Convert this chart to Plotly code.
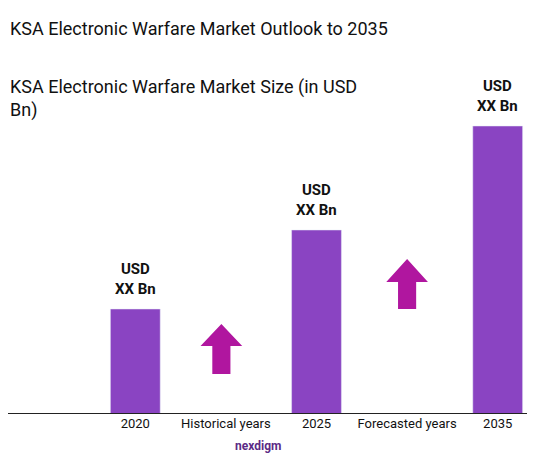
import plotly.graph_objects as go

categories = ["2020", "Historical years", "2025", "Forecasted years", "2035"]
values = [105, None, 184, None, 288]
bar_labels = ["USD<br>XX Bn", "", "USD<br>XX Bn", "", "USD<br>XX Bn"]

BAR = "#8a44c2"
ARROW = "#b0169f"
H = 314

fig = go.Figure(go.Bar(x=list(range(5)), y=values, marker_color=BAR, width=0.55))

for i, (v, lab) in enumerate(zip(values, bar_labels)):
    if v:
        fig.add_annotation(x=i, y=v, text="<b>" + lab + "</b>", showarrow=False,
                           yshift=30, font=dict(size=15, color="#111"), xref="x", yref="y")

def arrow(cx, base, tip, headbase):
    hw, sw = 0.23, 0.1
    return (f"M {cx-sw} {base} L {cx+sw} {base} L {cx+sw} {headbase} L {cx+hw} {headbase} "
            f"L {cx} {tip} L {cx-hw} {headbase} L {cx-sw} {headbase} Z")

fig.add_shape(type="path", path=arrow(0.95, 40, 90, 68), fillcolor=ARROW, line_width=0, xref="x", yref="y")
fig.add_shape(type="path", path=arrow(3.0, 105, 155, 132), fillcolor=ARROW, line_width=0, xref="x", yref="y")
fig.add_shape(type="line", xref="paper", yref="y", x0=-0.25, x1=1.1, y0=0, y1=0,
              line=dict(color="#222", width=2))

fig.add_annotation(text="KSA Electronic Warfare Market Outlook to 2035", xref="paper", yref="paper",
                   x=-82/453, y=1 + 72/H, xanchor="left", yanchor="middle", showarrow=False,
                   font=dict(size=18, color="#111"))
fig.add_annotation(text="KSA Electronic Warfare Market Size (in USD<br>Bn)", xref="paper", yref="paper",
                   x=-82/453, y=1 + 2/H, xanchor="left", yanchor="middle", showarrow=False, align="left",
                   font=dict(size=18, color="#111"))
fig.add_annotation(text="<b>nexdigm</b>", xref="paper", yref="paper", x=0.37, y=-32/H,
                   xanchor="center", yanchor="middle", showarrow=False, font=dict(size=12, color="#5b2a86"))

fig.update_layout(
    width=535, height=454, margin=dict(l=82, r=0, t=92, b=48),
    plot_bgcolor="white", paper_bgcolor="white", showlegend=False,
    font=dict(family="Roboto", color="#111"),
    xaxis=dict(tickmode="array", tickvals=list(range(5)), ticktext=categories, range=[-0.5, 4.5],
               showgrid=False, zeroline=False, tickfont=dict(size=13), showline=False),
    yaxis=dict(range=[0, H], visible=False),
)
fig.write_html("out.html")
